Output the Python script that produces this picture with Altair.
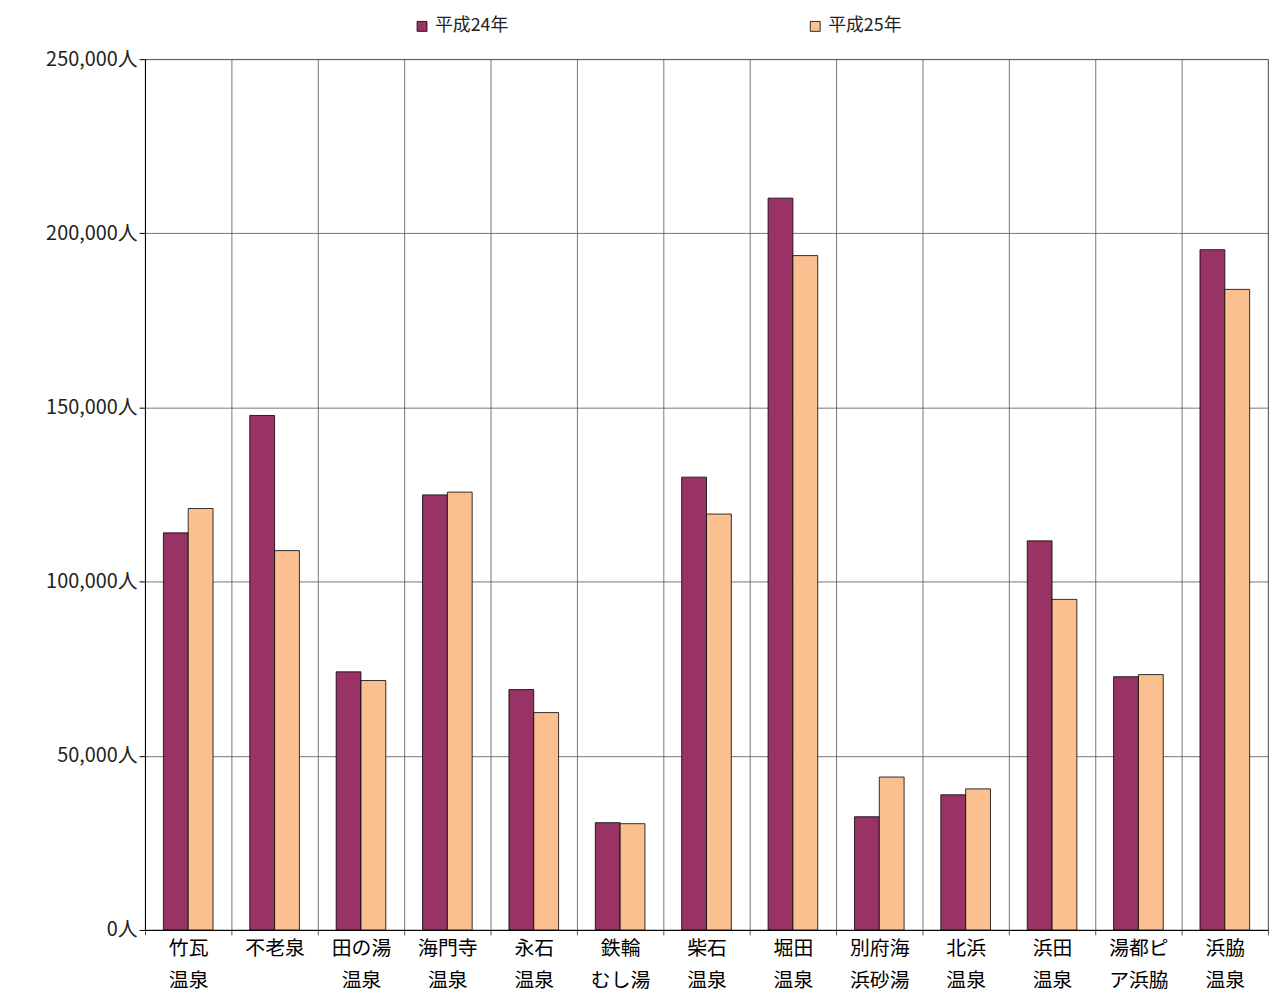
import altair as alt
import pandas as pd

cats = ["竹瓦|温泉","不老泉","田の湯|温泉","海門寺|温泉","永石|温泉","鉄輪|むし湯","柴石|温泉","堀田|温泉","別府海|浜砂湯","北浜|温泉","浜田|温泉","湯都ピ|ア浜脇","浜脇|温泉"]
h24 = [114000,147700,74100,124900,69000,30800,130000,210100,32500,38800,111700,72700,195300]
h25 = [121000,108900,71600,125700,62400,30500,119400,193600,43900,40500,94900,73300,183900]
series = ["平成24年","平成25年"]

rows = []
for c, a, b in zip(cats, h24, h25):
    rows.append({"cat": c, "s": series[0], "v": a})
    rows.append({"cat": c, "s": series[1], "v": b})
df = pd.DataFrame(rows)

font = "Noto Sans CJK JP"
chart = alt.Chart(df).mark_bar(stroke="black", strokeWidth=0.8).encode(
    x=alt.X("cat:N", sort=cats, title=None,
            scale=alt.Scale(paddingInner=0, paddingOuter=0),
            axis=alt.Axis(labelAngle=0, labelExpr="split(datum.label, '|')",
                          grid=True, bandPosition=0, gridColor="#555", gridWidth=0.8,
                          ticks=True, tickBand="extent", tickColor="#555",
                          labelFontSize=20, labelColor="black", labelFont=font,
                          labelLineHeight=32, labelPadding=4, domainColor="black")),
    xOffset=alt.XOffset("s:N", sort=series, scale=alt.Scale(paddingOuter=0.74, paddingInner=0)),
    y=alt.Y("v:Q", title=None, scale=alt.Scale(domain=[0, 250000]),
            axis=alt.Axis(values=[0,50000,100000,150000,200000,250000],
                          labelExpr="format(datum.value, ',') + '人'",
                          gridColor="#555", gridWidth=0.8, domainColor="black",
                          tickColor="black", tickSize=6,
                          labelFontSize=20, labelColor="#222", labelFont=font)),
    color=alt.Color("s:N", sort=series,
                    scale=alt.Scale(domain=series, range=["#993366", "#FAC090"]),
                    legend=alt.Legend(title=None, orient="none", legendX=270, legendY=-42,
                                      direction="horizontal", columnPadding=300,
                                      symbolType="square", symbolSize=100,
                                      symbolStrokeColor="black", symbolStrokeWidth=0.8,
                                      labelFontSize=18, labelFont=font, labelColor="#222")),
).properties(width=1131, height=877,
             padding={"left": 37, "top": 6, "right": 0, "bottom": 0}
).configure_view(stroke="#555", strokeWidth=0.8)

chart.save("out.html", embed_options={"renderer": "svg", "actions": False})
